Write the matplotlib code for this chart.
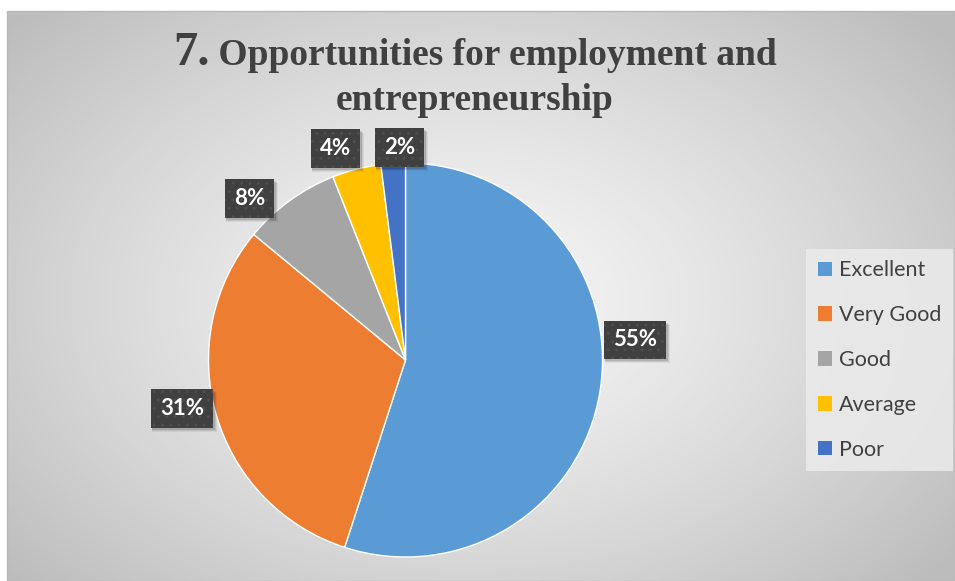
import numpy as np
import matplotlib.pyplot as plt
from matplotlib.patches import Patch, Rectangle

# data
categories = ["Excellent", "Very Good", "Good", "Average", "Poor"]
shares = [55, 31, 8, 4, 2]
colors = ["#5B9BD5", "#ED7D31", "#A5A5A5", "#FFC000", "#4472C4"]

# label nudges (deg shift from wedge middle, radius factor)
lab_shift = [14, -4, 8, 4, -2]
lab_rad = [1.17, 1.16, 1.14, 1.13, 1.08]

W, H = 955, 581
fig = plt.figure(figsize=(W / 100, H / 100), dpi=100)
ax = fig.add_axes([0, 0, 1, 1])

# chart area with radial grey gradient
x0, x1, y0, y1 = 7, W, 0, H - 11
gx, gy = np.meshgrid(np.linspace(x0, x1, 400), np.linspace(y0, y1, 250))
cx, cy = 470, H - 300
d = np.sqrt(((gx - cx) / 560) ** 2 + ((gy - cy) / 380) ** 2)
shade = np.clip(0.965 - 0.2 * d ** 1.3, 0.74, 1)
ax.imshow(np.dstack([shade] * 3), extent=[x0, x1, y0, y1], origin="lower",
          aspect="auto", zorder=0, interpolation="bilinear")
ax.add_patch(Rectangle((x0, y0), x1 - x0, y1 - y0, fill=False,
                       ec="#b8b8b8", lw=1, zorder=1))

# pie
pc = (405.5, H - 360)
R = 197
wedges, _ = ax.pie(shares, colors=colors, startangle=90, counterclock=False,
                   center=pc, radius=R, frame=True,
                   wedgeprops=dict(edgecolor="white", linewidth=1))
ax.set_xlim(0, W)
ax.set_ylim(0, H)
ax.axis("off")
for w in wedges:
    w.set_zorder(2)

# data labels (dark boxes)
labels = []
for w, v, sh, rf in zip(wedges, shares, lab_shift, lab_rad):
    mid = np.deg2rad((w.theta1 + w.theta2) / 2 + sh)
    lx = pc[0] + rf * R * np.cos(mid)
    ly = pc[1] + rf * R * np.sin(mid)
    t = ax.text(lx, ly, f"{v}%", color="white", zorder=5, ha="center",
                va="center", fontsize=16, fontweight="bold", family="Lato",
                bbox=dict(boxstyle="square,pad=0.4", fc="#404040",
                          ec="#4e4e4e", hatch="..", lw=0))
    labels.append(t)

# title
tc = "#404040"
fig.canvas.draw()
r = fig.canvas.get_renderer()
t1 = ax.text(0, H - 65, "7.", fontsize=35, fontweight="bold",
             family="Liberation Serif", color=tc, va="baseline", zorder=6)
t2 = ax.text(0, H - 65, " Opportunities for employment and", fontsize=27,
             fontweight="bold", family="Liberation Serif", color=tc,
             va="baseline", zorder=6)
w1 = t1.get_window_extent(r).width
w2 = t2.get_window_extent(r).width
start = 475 - (w1 + w2) / 2
t1.set_x(start)
t2.set_x(start + w1)
ax.text(475, H - 110, "entrepreneurship", fontsize=27, fontweight="bold",
        family="Liberation Serif", color=tc, ha="center", va="baseline",
        zorder=6)

# soft shadows under the label boxes
for t in labels:
    bb = t.get_bbox_patch().get_window_extent(r)
    for k, a in [(4, 0.06), (3, 0.08), (2, 0.12)]:
        ax.add_patch(Rectangle((bb.x0 + 1, bb.y0 - k), bb.width + k - 1,
                               bb.height, transform=None, fc="black",
                               alpha=a, lw=0, zorder=4))

# legend
handles = [Patch(facecolor=c, edgecolor="none") for c in colors]
leg = ax.legend(handles, categories, loc="center left",
                bbox_to_anchor=(806 / W, 1 - 360 / H),
                bbox_transform=fig.transFigure,
                prop=dict(family="Lato", size=15.5), labelcolor="#404040",
                frameon=True, fancybox=False, borderpad=0.55,
                labelspacing=1.15, handlelength=0.68, handleheight=0.68,
                handletextpad=0.3, borderaxespad=0)
leg.get_frame().set_facecolor("#ebebeb")
leg.get_frame().set_edgecolor("none")
leg.get_frame().set_alpha(0.85)
leg.set_zorder(6)

fig.savefig("out.png", dpi=100)
